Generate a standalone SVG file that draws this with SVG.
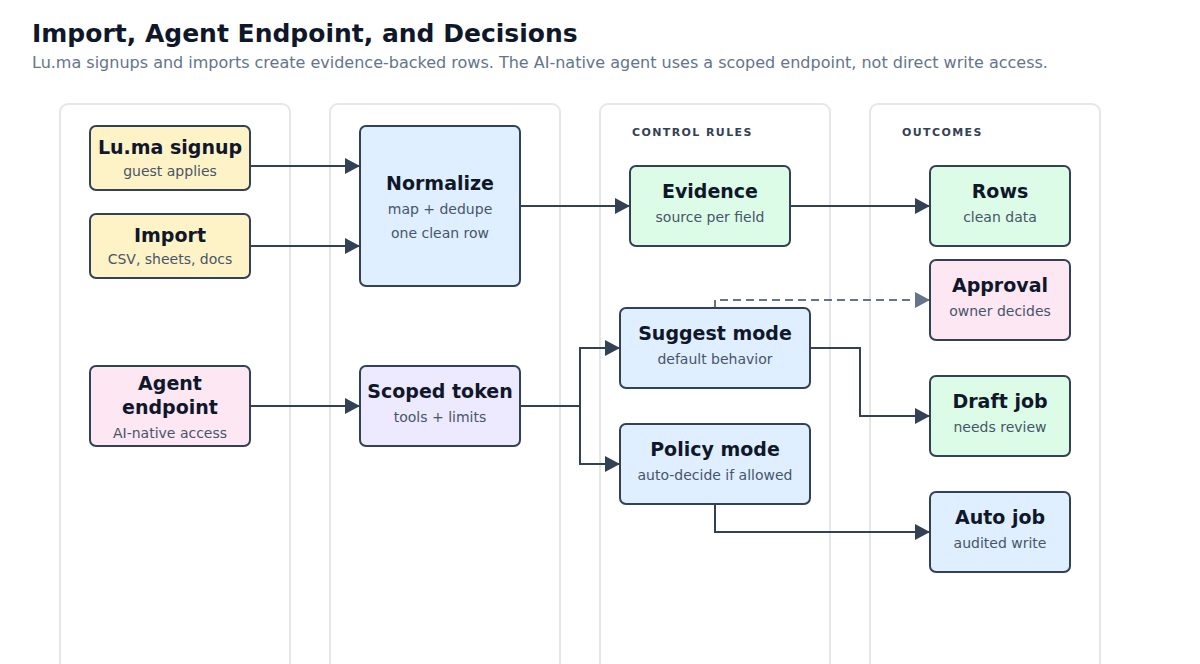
<svg xmlns="http://www.w3.org/2000/svg" width="1200" height="664" viewBox="0 0 1200 664">
<style>
text{font-family:"DejaVu Sans","Noto Sans",sans-serif}
.h1{font-size:25px;font-weight:bold;fill:#0f172a}
.h2{font-size:16px;fill:#64748b}
.lane{fill:#ffffff;stroke:#e5e7eb;stroke-width:2}
.lh{font-size:11px;font-weight:bold;fill:#334155;letter-spacing:1.4px}
.n{stroke:#334155;stroke-width:2}
.t{font-size:19px;font-weight:bold;fill:#0f172a;text-anchor:middle}
.s{font-size:14px;fill:#475569;text-anchor:middle}
.y{fill:#fef3c7}.b{fill:#dfefff}.g{fill:#dcfce7}.p{fill:#fce7f3}.v{fill:#ede9fe}
.c{fill:none;stroke:#334155;stroke-width:2}
.d{fill:none;stroke:#64748b;stroke-width:2;stroke-dasharray:8 5}
</style>
<defs>
<marker id="a" markerUnits="userSpaceOnUse" markerWidth="16" markerHeight="16" refX="15" refY="8" orient="auto"><path d="M0,0 L15,8 L0,16 z" fill="#334155"/></marker>
<marker id="ag" markerUnits="userSpaceOnUse" markerWidth="16" markerHeight="16" refX="15" refY="8" orient="auto"><path d="M0,0 L15,8 L0,16 z" fill="#64748b"/></marker>
</defs>
<rect width="1200" height="664" fill="#ffffff"/>
<text class="h1" x="32" y="42">Import, Agent Endpoint, and Decisions</text>
<text class="h2" x="32" y="68">Lu.ma signups and imports create evidence-backed rows. The AI-native agent uses a scoped endpoint, not direct write access.</text>
<g id="lanes">
<rect class="lane" x="60" y="104" width="230" height="570" rx="8"/>
<rect class="lane" x="330" y="104" width="230" height="570" rx="8"/>
<rect class="lane" x="600" y="104" width="230" height="570" rx="8"/>
<rect class="lane" x="870" y="104" width="230" height="570" rx="8"/>
<text class="lh" x="632" y="136">CONTROL RULES</text>
<text class="lh" x="902" y="136">OUTCOMES</text>
</g>
<g id="connectors">
<path class="c" d="M250,166 H360" marker-end="url(#a)"/>
<path class="c" d="M250,246 H360" marker-end="url(#a)"/>
<path class="c" d="M250,406 H360" marker-end="url(#a)"/>
<path class="c" d="M520,206 H630" marker-end="url(#a)"/>
<path class="c" d="M790,206 H930" marker-end="url(#a)"/>
<path class="c" d="M520,406 H580 V348 H620" marker-end="url(#a)"/>
<path class="c" d="M580,406 V464 H620" marker-end="url(#a)"/>
<path class="d" d="M715,308 V300 H930" marker-end="url(#ag)"/>
<path class="c" d="M810,348 H860 V416 H930" marker-end="url(#a)"/>
<path class="c" d="M715,504 V532 H930" marker-end="url(#a)"/>
</g>
<g id="luma"><rect class="n y" x="90" y="126" width="160" height="64" rx="6"/><text class="t" x="170" y="154">Lu.ma signup</text><text class="s" x="170" y="176">guest applies</text></g>
<g id="import"><rect class="n y" x="90" y="214" width="160" height="64" rx="6"/><text class="t" x="170" y="242">Import</text><text class="s" x="170" y="264">CSV, sheets, docs</text></g>
<g id="agent"><rect class="n p" x="90" y="366" width="160" height="80" rx="6"/><text class="t" x="170" y="390">Agent</text><text class="t" x="170" y="414">endpoint</text><text class="s" x="170" y="438">AI-native access</text></g>
<g id="normalize"><rect class="n b" x="360" y="126" width="160" height="160" rx="6"/><text class="t" x="440" y="190">Normalize</text><text class="s" x="440" y="214">map + dedupe</text><text class="s" x="440" y="238">one clean row</text></g>
<g id="token"><rect class="n v" x="360" y="366" width="160" height="80" rx="6"/><text class="t" x="440" y="398">Scoped token</text><text class="s" x="440" y="422">tools + limits</text></g>
<g id="evidence"><rect class="n g" x="630" y="166" width="160" height="80" rx="6"/><text class="t" x="710" y="198">Evidence</text><text class="s" x="710" y="222">source per field</text></g>
<g id="suggest"><rect class="n b" x="620" y="308" width="190" height="80" rx="6"/><text class="t" x="715" y="340">Suggest mode</text><text class="s" x="715" y="364">default behavior</text></g>
<g id="policy"><rect class="n b" x="620" y="424" width="190" height="80" rx="6"/><text class="t" x="715" y="456">Policy mode</text><text class="s" x="715" y="480">auto-decide if allowed</text></g>
<g id="rows"><rect class="n g" x="930" y="166" width="140" height="80" rx="6"/><text class="t" x="1000" y="198">Rows</text><text class="s" x="1000" y="222">clean data</text></g>
<g id="approval"><rect class="n p" x="930" y="260" width="140" height="80" rx="6"/><text class="t" x="1000" y="292">Approval</text><text class="s" x="1000" y="316">owner decides</text></g>
<g id="draft"><rect class="n g" x="930" y="376" width="140" height="80" rx="6"/><text class="t" x="1000" y="408">Draft job</text><text class="s" x="1000" y="432">needs review</text></g>
<g id="auto"><rect class="n b" x="930" y="492" width="140" height="80" rx="6"/><text class="t" x="1000" y="524">Auto job</text><text class="s" x="1000" y="548">audited write</text></g>
</svg>
